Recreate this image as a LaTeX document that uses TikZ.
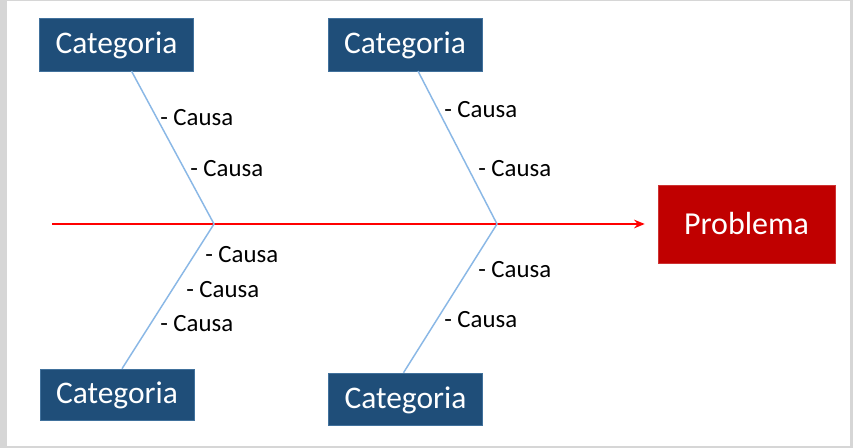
\documentclass[tikz,border=0pt]{standalone}
\usepackage{fontspec}
\setmainfont{Carlito}
\usetikzlibrary{arrows.meta,calc}
\definecolor{catblue}{HTML}{1F4E79}
\definecolor{catedge}{HTML}{41719C}
\definecolor{probred}{HTML}{C00000}
\definecolor{boneblue}{HTML}{8AB8E6}
\definecolor{framegray}{HTML}{D6D6D6}
\tikzset{
  catbox/.style={fill=catblue, draw=catedge, line width=0.4pt, text=white, inner sep=0pt,
    minimum width=115.5pt, minimum height=39.5pt, text height=18.5pt, text depth=4.5pt,
    font=\fontsize{23.6}{26}\selectfont},
  probbox/.style={fill=probred, draw=probred!80!white, line width=0.4pt, text=white, inner sep=0pt,
    minimum width=132.75pt, minimum height=58.5pt, font=\fontsize{24}{27}\selectfont},
  cause/.style={anchor=west, inner sep=0pt, font=\fontsize{18.6}{20}\selectfont},
  bone/.style={draw=boneblue, line width=1.1pt},
  spine/.style={draw=red, line width=1.1pt, -{Stealth[length=8pt,width=6.5pt]}, shorten >=9.75pt}
}

\begin{document}
\begin{tikzpicture}[x=0.75pt, y=-0.75pt]
	%%%%% FRAME %%%%%
	\fill[framegray] (0, 0) rectangle (853, 448);
	\fill[white] (7, 1.5) rectangle (850, 446);
	\useasboundingbox (0, 0) rectangle (853, 448);
	
	%%%%% BOXES %%%%%
	\node[catbox] (cat1) at (116.5, 44.5) {Categoria};
	\node[catbox] (cat2) at (405, 44.5) {Categoria};
	\node[catbox, minimum height=38.25pt] (cat3) at (117, 394.5) {Categoria};
	\node[catbox, minimum height=39pt] (cat4) at (405.5, 399) {Categoria};
	\node[probbox] (prob) at (746.5, 224) {Problema};
	
	%%%%% SPINE %%%%%
	\coordinate (tail) at (52, 224);
	\coordinate (j1) at (214, 224);
	\coordinate (j2) at (497, 224);
	\draw[spine] (tail) -- (prob.west);
	
	%%%%% BONES %%%%%
	\draw[bone] ($(cat1.south)+(15, 0)$) -- (j1) -- ($(cat3.north)+(5, 0)$);
	\draw[bone] ($(cat2.south)+(13, 0)$) -- (j2) -- ($(cat4.north)+(-2, 0)$);
	
	%%%%% CAUSES %%%%%
	\node[cause] (c11) at (160, 118) {- Causa};
	\node[cause] (c12) at (190, 169) {- Causa};
	\node[cause] (c31) at (205, 255) {- Causa};
	\node[cause] (c32) at (186, 290) {- Causa};
	\node[cause] (c33) at (160, 324) {- Causa};
	\node[cause] (c21) at (444, 110) {- Causa};
	\node[cause] (c22) at (478, 169) {- Causa};
	\node[cause] (c41) at (478, 270) {- Causa};
	\node[cause] (c42) at (444, 320) {- Causa};
\end{tikzpicture}
\end{document}
